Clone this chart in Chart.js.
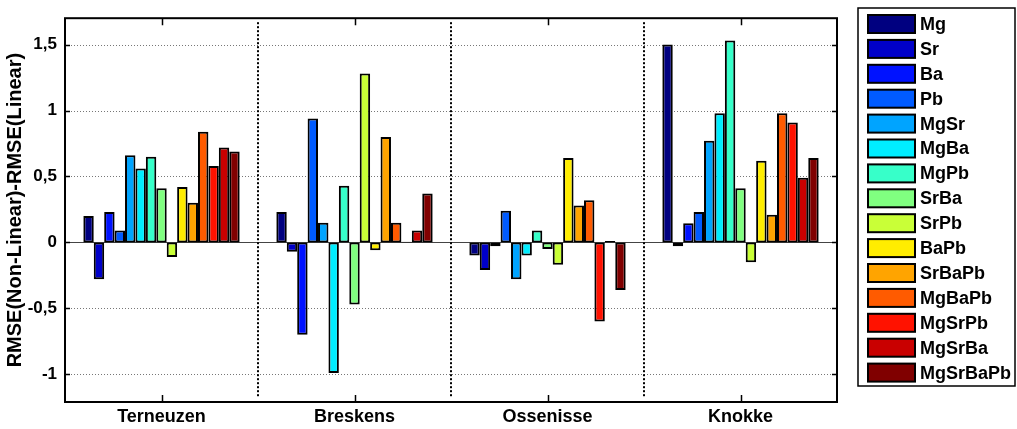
<!DOCTYPE html>
<html lang="en">
<head>
    <meta charset="UTF-8">
    <title>RMSE difference by site</title>
    <script src="https://cdn.jsdelivr.net/npm/chart.js"></script>
    <style>
        body { margin: 0; background: white; }
        #chart { display: block; }
    </style>
</head>
<body>
    <canvas id="chart" width="1017" height="429"></canvas>

    <script>
        // sites on the x axis
        const sites = ['Terneuzen', 'Breskens', 'Ossenisse', 'Knokke'];
        // element combinations (legend order)
        const combos = ['Mg', 'Sr', 'Ba', 'Pb', 'MgSr', 'MgBa', 'MgPb', 'SrBa', 'SrPb', 'BaPb',
            'SrBaPb', 'MgBaPb', 'MgSrPb', 'MgSrBa', 'MgSrBaPb'];
        // jet colormap, 15 steps
        const comboColors = ['#000080', '#0000c9', '#0012ff', '#005bff', '#00a4ff', '#00edff',
            '#37ffc9', '#80ff80', '#c9ff37', '#ffed00', '#ffa400', '#ff5b00', '#ff1200', '#c90000', '#800000'];

        // RMSE(Non-Linear) - RMSE(Linear), one value per combination, per site
        const terneuzen = [0.20, -0.28, 0.23, 0.09, 0.66, 0.56, 0.65, 0.41, -0.11, 0.42, 0.30, 0.84, 0.58, 0.72, 0.69];
        const breskens = [0.23, -0.07, -0.70, 0.94, 0.15, -0.99, 0.43, -0.47, 1.28, -0.06, 0.80, 0.15, 0.005, 0.09, 0.37];
        const ossenisse = [-0.10, -0.21, -0.03, 0.24, -0.28, -0.10, 0.09, -0.05, -0.17, 0.64, 0.28, 0.32, -0.60, 0.01, -0.36];
        const knokke = [1.50, -0.03, 0.145, 0.23, 0.77, 0.98, 1.53, 0.41, -0.15, 0.62, 0.21, 0.98, 0.91, 0.49, 0.64];

        const yTicks = [-1, -0.5, 0, 0.5, 1, 1.5];

        const bySite = [terneuzen, breskens, ossenisse, knokke];
        const FONT = '"Liberation Sans", Arial, Helvetica, sans-serif';

        const datasets = combos.map((name, i) => ({
            label: name,
            data: bySite.map(site => site[i]),
            backgroundColor: comboColors[i],
            borderColor: '#000',
            borderWidth: 2,
            borderSkipped: false
        }));

        // axes box, grid, separators and legend in MATLAB style
        const matlabLook = {
            id: 'matlabLook',
            beforeDatasetsDraw(chart) {
                const { ctx, chartArea: a, scales: { x, y } } = chart;
                ctx.save();
                yTicks.forEach(v => {
                    const py = Math.round(y.getPixelForValue(v)) + 0.5;
                    ctx.beginPath();
                    if (v === 0) {
                        ctx.setLineDash([]);
                        ctx.strokeStyle = '#444';
                    } else {
                        ctx.setLineDash([1, 2]);
                        ctx.strokeStyle = '#777';
                    }
                    ctx.lineWidth = 1;
                    ctx.moveTo(a.left, py);
                    ctx.lineTo(a.right, py);
                    ctx.stroke();
                });
                // dotted separators between sites
                ctx.setLineDash([2, 2]);
                ctx.strokeStyle = '#000';
                ctx.lineWidth = 2;
                for (let i = 1; i < sites.length; i++) {
                    const px = Math.round((x.getPixelForTick(i - 1) + x.getPixelForTick(i)) / 2);
                    ctx.beginPath();
                    ctx.moveTo(px, a.top + 4);
                    ctx.lineTo(px, a.bottom - 4);
                    ctx.stroke();
                }
                ctx.restore();
            },
            afterDraw(chart) {
                const { ctx, chartArea: a, scales: { x, y } } = chart;
                ctx.save();
                ctx.strokeStyle = '#000';
                ctx.lineWidth = 2;
                ctx.strokeRect(a.left, a.top, a.right - a.left, a.bottom - a.top);

                // inward ticks
                ctx.lineWidth = 1.5;
                ctx.beginPath();
                sites.forEach((s, i) => {
                    const px = Math.round(x.getPixelForTick(i)) + 0.5;
                    ctx.moveTo(px, a.bottom); ctx.lineTo(px, a.bottom - 7);
                    ctx.moveTo(px, a.top); ctx.lineTo(px, a.top + 7);
                });
                yTicks.forEach(v => {
                    const py = Math.round(y.getPixelForValue(v)) + 0.5;
                    ctx.moveTo(a.left, py); ctx.lineTo(a.left + 5, py);
                    ctx.moveTo(a.right, py); ctx.lineTo(a.right - 5, py);
                });
                ctx.stroke();

                // legend
                const lx = 858, ly = 8, lw = 157, lh = 378;
                ctx.fillStyle = '#fff';
                ctx.fillRect(lx, ly, lw, lh);
                ctx.lineWidth = 1.5;
                ctx.strokeRect(lx, ly, lw, lh);
                ctx.font = 'bold 18px ' + FONT;
                ctx.textBaseline = 'middle';
                chart.data.datasets.forEach((ds, i) => {
                    const cy = 24 + i * 24.9;
                    ctx.fillStyle = ds.backgroundColor;
                    ctx.fillRect(868, cy - 9, 47, 18);
                    ctx.strokeStyle = '#000';
                    ctx.lineWidth = 2;
                    ctx.strokeRect(868, cy - 9, 47, 18);
                    ctx.fillStyle = '#000';
                    ctx.fillText(ds.label, 920, cy + 1);
                });
                ctx.restore();
            }
        };

        new Chart(document.getElementById('chart'), {
            type: 'bar',
            data: { labels: sites, datasets: datasets },
            options: {
                responsive: false,
                animation: false,
                layout: { padding: { top: 7, right: 180, bottom: 0, left: 3 } },
                categoryPercentage: 0.81,
                barPercentage: 1.0,
                plugins: {
                    legend: { display: false },
                    tooltip: { enabled: false }
                },
                scales: {
                    x: {
                        grid: { display: false, drawTicks: false },
                        border: { display: false },
                        ticks: {
                            color: '#000',
                            padding: 4,
                            font: { family: FONT, size: 18, weight: 'bold' }
                        },
                        afterFit(scale) { scale.height = 27; }
                    },
                    y: {
                        min: -1.21,
                        max: 1.70,
                        grid: { display: false, drawTicks: false },
                        border: { display: false },
                        afterBuildTicks(scale) { scale.ticks = yTicks.map(v => ({ value: v })); },
                        ticks: {
                            color: '#000',
                            padding: 8,
                            font: { family: FONT, size: 17, weight: 'bold' },
                            callback: v => String(v).replace('.', ',')
                        },
                        title: {
                            display: true,
                            text: 'RMSE(Non-Linear)-RMSE(Linear)',
                            color: '#000',
                            padding: { top: 0, bottom: 0 },
                            font: { family: FONT, size: 20, weight: 'bold' }
                        },
                        afterFit(scale) { scale.width = 62; }
                    }
                }
            },
            plugins: [matlabLook]
        });
    </script>
</body>
</html>
